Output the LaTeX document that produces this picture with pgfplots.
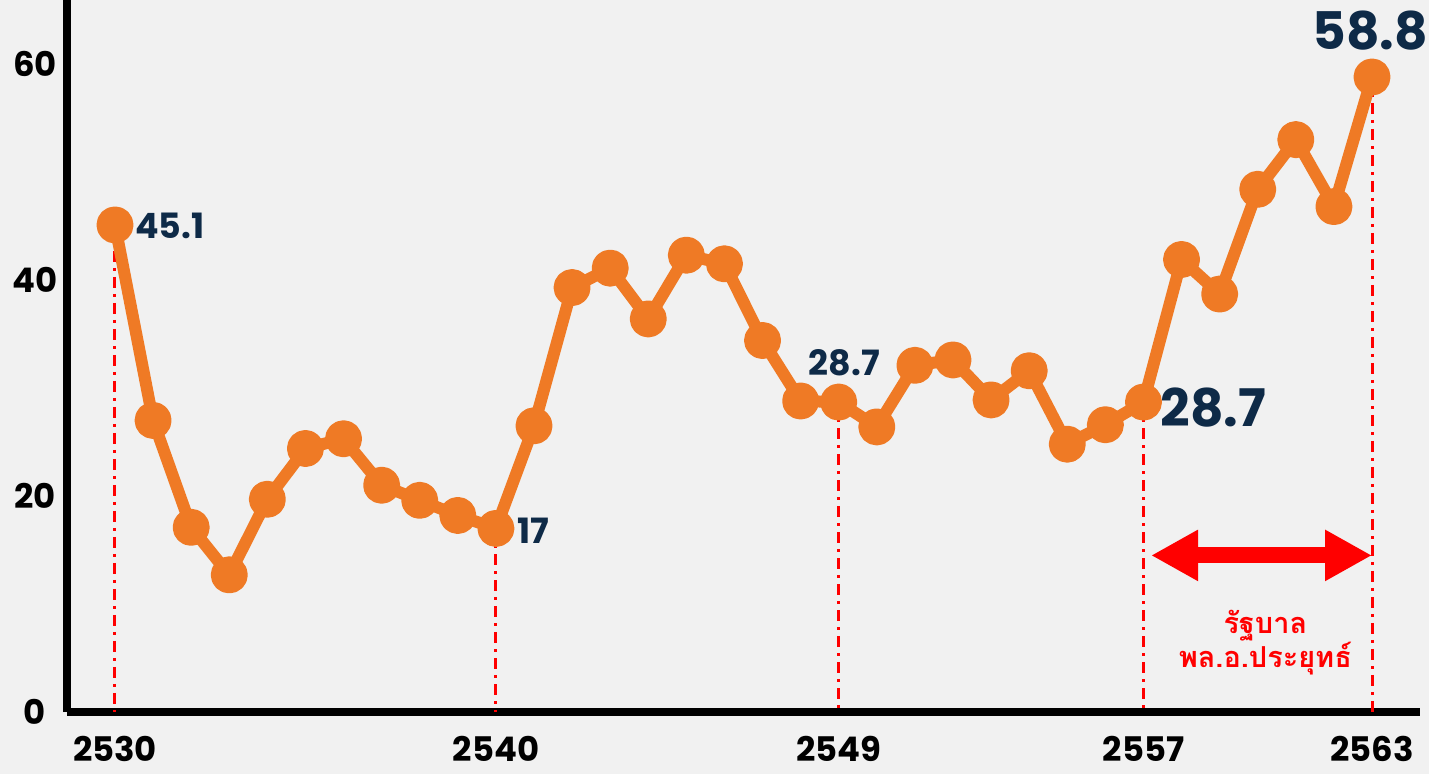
\documentclass[border=0pt]{standalone}
\usepackage{fontspec}
\usepackage{pgfplots}
\pgfplotsset{compat=1.18}
\usetikzlibrary{arrows.meta}
\setmainfont{Poppins}
\newfontfamily\thaifont[Script=Thai]{Loma}
\definecolor{bgc}{HTML}{F1F1F1}
\definecolor{lineor}{HTML}{EF7A25}
\definecolor{navy}{HTML}{0E2A47}
\definecolor{redl}{HTML}{FF0000}
\begin{document}
\begin{tikzpicture}
\useasboundingbox (-67bp,-62bp) rectangle (1362bp,712bp);
\fill[bgc] (-67bp,-62bp) rectangle (1362bp,712bp);
\begin{axis}[
  at={(0,0)}, anchor=south west,
  scale only axis, width=1353bp, height=712bp,
  xmin=2528.74, xmax=2564.26, ymin=0, ymax=65.93,
  axis lines*=left,
  axis line style={line width=8bp, black},
  major tick length=0pt,
  xtick={2530,2540,2549,2557,2563},
  xticklabels={2530,2540,2549,2557,2563},
  ytick={0,20,40,60},
  yticklabels={0,20,40,60},
  xticklabel style={anchor=center, yshift=-37bp, inner sep=0pt, font=\bfseries\fontsize{34}{34}\selectfont},
  yticklabel style={anchor=center, xshift=-32bp, inner sep=0pt, font=\bfseries\fontsize{34}{34}\selectfont},
  clip=false,
]
% red reference lines
\addplot[redl, line width=3bp, dash pattern=on 11bp off 6bp on 3bp off 6bp] coordinates {(2530,45.1) (2530,0)};
\addplot[redl, line width=3bp, dash pattern=on 11bp off 6bp on 3bp off 6bp] coordinates {(2540,17) (2540,0)};
\addplot[redl, line width=3bp, dash pattern=on 11bp off 6bp on 3bp off 6bp] coordinates {(2549,28.7) (2549,0)};
\addplot[redl, line width=3bp, dash pattern=on 11bp off 6bp on 3bp off 6bp] coordinates {(2557,28.7) (2557,0)};
\addplot[redl, line width=3bp, dash pattern=on 11bp off 6bp on 3bp off 6bp] coordinates {(2563,58.8) (2563,0)};
% data
\addplot[lineor, line width=12bp, line join=round, mark=*, mark size=12.5bp, mark options={draw=none, fill=lineor}] coordinates {
(2530,45.1) (2531,27.0) (2532,17.1) (2533,12.7) (2534,19.7) (2535,24.4)
(2536,25.3) (2537,21.0) (2538,19.6) (2539,18.2) (2540,17.0) (2541,26.5)
(2542,39.3) (2543,41.1) (2544,36.4) (2545,42.3) (2546,41.5) (2547,34.4)
(2548,28.8) (2549,28.7) (2550,26.4) (2551,32.1) (2552,32.6) (2553,28.9)
(2554,31.6) (2555,24.8) (2556,26.6) (2557,28.7) (2558,41.9) (2559,38.7)
(2560,48.4) (2561,53.0) (2562,46.8) (2563,58.8)};
% labels
\node[anchor=west, navy, font=\bfseries\fontsize{35}{35}\selectfont, inner sep=0pt] at (axis cs:2530.52,45.0) {45.1};
\node[anchor=west, navy, font=\bfseries\fontsize{35}{35}\selectfont, inner sep=0pt] at (axis cs:2540.55,16.8) {17};
\node[anchor=center, navy, font=\bfseries\fontsize{35}{35}\selectfont, inner sep=0pt] at (axis cs:2549.15,32.3) {28.7};
\node[anchor=west, navy, font=\bfseries\fontsize{52}{52}\selectfont, inner sep=0pt] at (axis cs:2557.45,28.2) {28.7};
\node[anchor=center, navy, font=\bfseries\fontsize{52}{52}\selectfont, inner sep=0pt] at (axis cs:2562.95,63.1) {58.8};
% arrow
\draw[redl, line width=16bp, {Triangle[length=47bp,width=48bp]}-{Triangle[length=47bp,width=48bp]}] (axis cs:2557.2,14.5) -- (axis cs:2563,14.5);
\node[redl, align=center, font=\thaifont\bfseries\fontsize{29}{34}\selectfont] at (axis cs:2560.2,6.4) {รัฐบาล\\พล.อ.ประยุทธ์};
\end{axis}
\end{tikzpicture}
\end{document}
